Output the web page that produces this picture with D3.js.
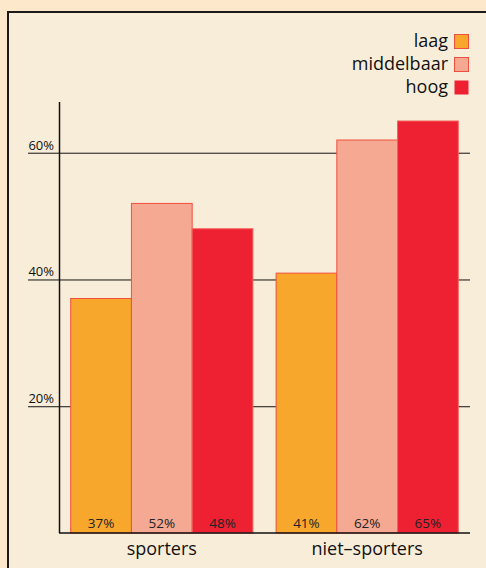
<!DOCTYPE html>
<meta charset="utf-8">
<script src="https://d3js.org/d3.v7.min.js"></script>
<style>
body { margin: 0; background: #fde8cb; }
text { font-family: "Open Sans", sans-serif; fill: #111; }
.grid line { stroke: #111; stroke-width: 1px; }
.valueLabel { font-size: 13.5px; fill: #222; }
.catLabel { font-size: 18px; }
.legend text { font-size: 18px; }
</style>
<body></body>
<script>
// data
var groups = ['sporters', 'niet-sporters'];
var levels = ['laag', 'middelbaar', 'hoog'];
var sporters = [37, 52, 48];
var nietSporters = [41, 62, 65];
var tickValues = [20, 40, 60];
var colors = ['#f7a72b', '#f5a892', '#ee2132'];

var width = 486, height = 568;

var svg = d3.select('body').append('svg')
  .attr('width', width)
  .attr('height', height);

// panel
svg.append('rect')
  .attr('x', 8).attr('y', 12)
  .attr('width', 490).attr('height', 570)
  .style('fill', '#f8edd9')
  .style('stroke', '#1a1a1a')
  .style('stroke-width', 2);

var xScale = d3.scaleBand()
  .domain(groups)
  .range([59, 470])
  .paddingInner(0.113)
  .paddingOuter(0.057);

var xInner = d3.scaleBand()
  .domain(levels)
  .range([0, xScale.bandwidth()]);

var yScale = d3.scaleLinear()
  .domain([0, 68])
  .range([533, 102]);

// gridlines with labels
var grid = svg.append('g').attr('class', 'grid');
grid.selectAll('line')
  .data(tickValues).enter().append('line')
  .attr('x1', 28).attr('x2', 470)
  .attr('y1', function(d) { return yScale(d) + 0.5; })
  .attr('y2', function(d) { return yScale(d) + 0.5; });

grid.selectAll('text')
  .data(tickValues).enter().append('text')
  .attr('x', 54)
  .attr('y', function(d) { return yScale(d) - 3; })
  .attr('text-anchor', 'end')
  .style('font-size', '13px')
  .text(function(d) { return d + '%'; });

// bars
var data = [sporters, nietSporters];
var groupSel = svg.selectAll('.barGroup')
  .data(groups).enter().append('g')
  .attr('class', 'barGroup')
  .attr('transform', function(d) { return 'translate(' + xScale(d) + ',0)'; });

groupSel.selectAll('rect')
  .data(function(d, i) {
    return data[i].map(function(v, j) { return { level: levels[j], value: v, idx: j }; });
  })
  .enter().append('rect')
  .attr('x', function(d) { return xInner(d.level); })
  .attr('y', function(d) { return yScale(d.value); })
  .attr('width', xInner.bandwidth())
  .attr('height', function(d) { return yScale(0) - yScale(d.value); })
  .style('fill', function(d) { return colors[d.idx]; })
  .style('stroke', function(d) { return d.idx == 2 ? '#f5605c' : '#f0503e'; })
  .style('stroke-width', 1);

groupSel.selectAll('.valueLabel')
  .data(function(d, i) {
    return data[i].map(function(v, j) { return { level: levels[j], value: v }; });
  })
  .enter().append('text')
  .attr('class', 'valueLabel')
  .attr('x', function(d) { return xInner(d.level) + xInner.bandwidth() / 2; })
  .attr('y', 528)
  .attr('text-anchor', 'middle')
  .text(function(d) { return d.value + '%'; });

// axes lines
svg.append('line')
  .attr('x1', 59.5).attr('x2', 59.5)
  .attr('y1', 102).attr('y2', 533)
  .style('stroke', '#111').style('stroke-width', 1.5);

svg.append('line')
  .attr('x1', 59).attr('x2', 470)
  .attr('y1', 533).attr('y2', 533)
  .style('stroke', '#111').style('stroke-width', 1.5);

// category labels
svg.selectAll('.catLabel')
  .data(groups).enter().append('text')
  .attr('class', 'catLabel')
  .attr('x', function(d) { return xScale(d) + xScale.bandwidth() / 2; })
  .attr('y', 555)
  .attr('text-anchor', 'middle')
  .text(function(d) { return d == 'niet-sporters' ? 'niet\u2013sporters' : d; });

// legend
var legend = svg.append('g').attr('class', 'legend');
var lg = legend.selectAll('g')
  .data(levels).enter().append('g')
  .attr('transform', function(d, i) { return 'translate(0,' + (34 + i * 23) + ')'; });

lg.append('rect')
  .attr('x', 454.5).attr('y', 0.5)
  .attr('width', 14).attr('height', 14)
  .style('fill', function(d, i) { return colors[i]; })
  .style('stroke', function(d, i) { return i == 2 ? 'none' : '#f0503e'; });

lg.append('text')
  .attr('x', 448)
  .attr('y', 13)
  .attr('text-anchor', 'end')
  .text(function(d) { return d; });
</script>
